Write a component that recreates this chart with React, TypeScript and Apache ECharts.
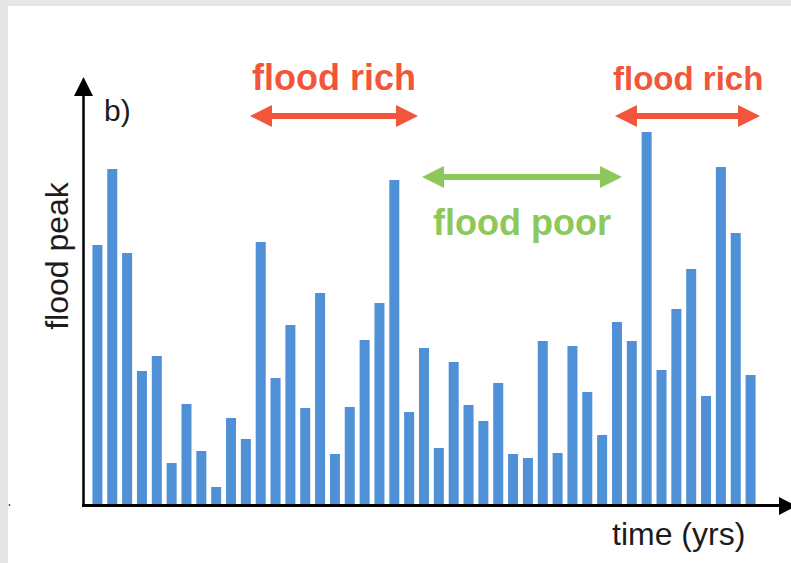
import React, { useEffect, useRef } from "react";
import * as echarts from "echarts";

const years: string[] = Array.from({ length: 45 }, (_, i) => String(i + 1));
const floodPeaks: number[] = [
  260, 336, 252, 134, 149, 42, 101, 54, 18, 87, 66, 263, 127, 180, 97,
  212, 51, 98, 165, 202, 325, 93, 157, 57, 143, 100, 84, 122, 51, 47,
  164, 52, 159, 113, 70, 183, 164, 373, 135, 196, 236, 109, 338, 272, 130,
];
const labels = {
  panel: "b)",
  yName: "flood peak",
  xName: "time (yrs)",
  rich: "flood rich",
  poor: "flood poor",
};

const RED = "#f2553a";
const GREEN = "#8cc95a";
const BAR = "#4f90d6";
const INK = "#1c1c1c";

function dblArrow(x1: number, x2: number, y: number, color: string) {
  const head = 22;
  const half = 11;
  return [
    {
      type: "line",
      shape: { x1: x1 + head - 2, y1: y, x2: x2 - head + 2, y2: y },
      style: { stroke: color, lineWidth: 6 },
      z: 50,
    },
    {
      type: "polygon",
      shape: { points: [[x1, y], [x1 + head, y - half], [x1 + head, y + half]] },
      style: { fill: color },
      z: 50,
    },
    {
      type: "polygon",
      shape: { points: [[x2, y], [x2 - head, y - half], [x2 - head, y + half]] },
      style: { fill: color },
      z: 50,
    },
  ];
}

export default function App() {
  const ref = useRef<HTMLDivElement>(null);
  useEffect(() => {
    if (!ref.current) return;
    const chart = echarts.init(ref.current, null, { renderer: "svg" });
    const font = "'Liberation Sans', Arial, sans-serif";
    chart.setOption({
      animation: false,
      backgroundColor: "#ffffff",
      grid: { left: 90, top: 80, width: 668, height: 425 },
      xAxis: {
        type: "category",
        data: years,
        boundaryGap: true,
        axisLine: { show: false },
        axisTick: { show: false },
        axisLabel: { show: false },
      },
      yAxis: {
        type: "value",
        min: 0,
        max: 425,
        axisLine: { show: false },
        axisTick: { show: false },
        axisLabel: { show: false },
        splitLine: { show: false },
      },
      series: [
        {
          type: "bar",
          data: floodPeaks,
          barWidth: 10,
          itemStyle: { color: BAR },
        },
      ],
      graphic: [
        // frame
        { type: "rect", shape: { x: 0, y: 0, width: 791, height: 6 }, style: { fill: "#e6e6e6" }, z: 1 },
        { type: "rect", shape: { x: 0, y: 0, width: 8, height: 563 }, style: { fill: "#e6e6e6" }, z: 1 },
        { type: "circle", shape: { cx: 9.5, cy: 505, r: 0.8 }, style: { fill: "#333" }, z: 1 },
        // axes
        { type: "line", shape: { x1: 83.5, y1: 92, x2: 83.5, y2: 507 }, style: { stroke: "#000", lineWidth: 2.5 }, z: 100 },
        { type: "polygon", shape: { points: [[74, 96], [93, 96], [83.5, 77]] }, style: { fill: "#000" }, z: 100 },
        { type: "line", shape: { x1: 82, y1: 505.5, x2: 782, y2: 505.5 }, style: { stroke: "#000", lineWidth: 3 }, z: 100 },
        { type: "polygon", shape: { points: [[779, 497], [779, 515], [796, 506]] }, style: { fill: "#000" }, z: 100 },
        // arrows
        ...dblArrow(250, 418, 116, RED),
        ...dblArrow(615, 760, 116, RED),
        ...dblArrow(422, 622, 177, GREEN),
        // texts
        {
          type: "text",
          style: { text: labels.rich, x: 252, y: 77, fill: RED, font: `bold 36px ${font}`, align: "left", verticalAlign: "middle" },
          z: 60,
        },
        {
          type: "text",
          style: { text: labels.rich, x: 613, y: 78, fill: RED, font: `bold 33px ${font}`, align: "left", verticalAlign: "middle" },
          z: 60,
        },
        {
          type: "text",
          style: { text: labels.poor, x: 433, y: 222, fill: GREEN, font: `bold 36px ${font}`, align: "left", verticalAlign: "middle" },
          z: 60,
        },
        {
          type: "text",
          style: { text: labels.panel, x: 104, y: 110, fill: INK, font: `30px ${font}`, align: "left", verticalAlign: "middle" },
          z: 60,
        },
        {
          type: "text",
          style: { text: labels.xName, x: 612, y: 534, fill: INK, font: `32px ${font}`, align: "left", verticalAlign: "middle" },
          z: 60,
        },
        {
          type: "text",
          x: 57,
          y: 256,
          rotation: Math.PI / 2,
          style: { text: labels.yName, x: 0, y: 0, fill: INK, font: `32px ${font}`, align: "center", verticalAlign: "middle" },
          z: 60,
        },
      ],
    });
    return () => chart.dispose();
  }, []);
  return (
    <div
      ref={ref}
      style={{ position: "fixed", left: 0, top: 0, width: 791, height: 563 }}
    />
  );
}
